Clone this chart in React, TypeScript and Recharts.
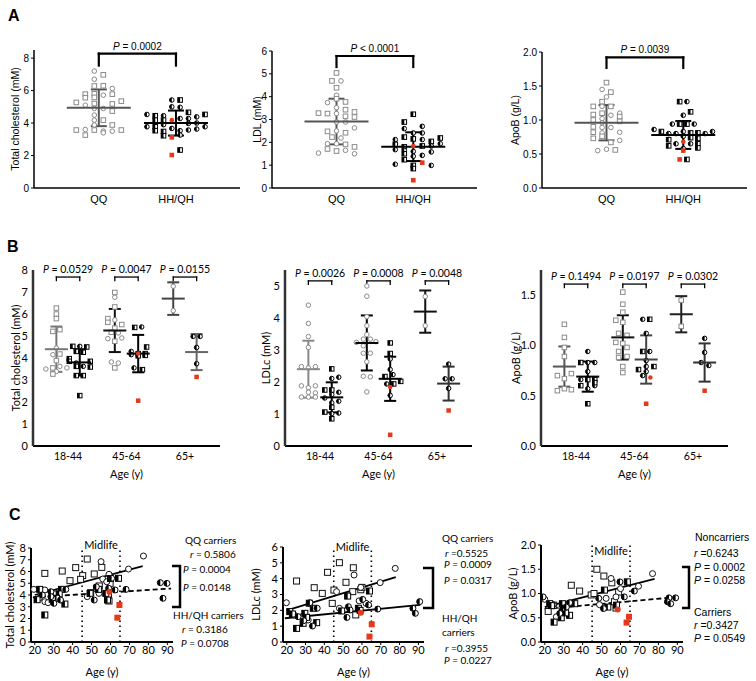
import React from 'react';
import { ScatterChart, Scatter, XAxis, YAxis, ErrorBar, ReferenceLine } from 'recharts';

type Kind = 'gs' | 'gc' | 'hs' | 'hc' | 'rs' | 'rc' | 'os' | 'oc';
type Pt = [number, number, Kind];

// ================= Panel A (slot in jitter column, value, marker kind) =================
const A_CATS = ['QQ', 'HH/QH'];

const A1_QQ: Pt[] = [
  [-0.5, 7.2, 'gc'], [0.5, 6.97, 'gs'], [-0.5, 6.7, 'gc'], [-0.5, 6.28, 'gs'], [0.5, 6.3, 'gs'], [1.5, 6.13, 'gc'],
  [-1.5, 5.78, 'gs'], [-0.5, 5.8, 'gs'], [1.5, 5.78, 'gs'], [-1.5, 5.56, 'gs'], [-0.5, 5.58, 'gs'], [0.5, 5.72, 'gc'],
  [-2.5, 5.27, 'gs'], [-1.5, 5.1, 'gc'], [-0.5, 5.2, 'gs'], [1.5, 5.18, 'gs'], [2.5, 5.35, 'gs'],
  [-0.5, 4.9, 'gc'], [0.5, 4.9, 'gc'], [1.5, 4.74, 'gs'], [-0.5, 4.49, 'gc'], [-0.5, 4.18, 'gc'], [0.5, 4.18, 'gs'],
  [-0.5, 3.88, 'gc'], [1.5, 3.88, 'gs'], [-2.5, 3.57, 'gs'], [-1.5, 3.6, 'gc'], [-0.5, 3.57, 'gs'], [0.5, 3.5, 'gc'],
  [1.5, 3.5, 'gc'], [2.5, 3.57, 'gs'], [-1.5, 3.26, 'gs'], [0.5, 3.4, 'gc'],
];
const A1_HH: Pt[] = [
  [-0.5, 5.42, 'hc'], [0.5, 5.42, 'hs'], [-0.5, 5.0, 'hc'], [0.5, 4.97, 'hc'], [1.5, 4.66, 'hs'], [3.5, 4.53, 'hs'],
  [-3.5, 4.53, 'hc'], [-2.5, 4.45, 'hs'], [-1.5, 4.45, 'hc'], [0.5, 4.28, 'hc'], [1.5, 4.28, 'hc'], [2.5, 4.38, 'hc'],
  [-2.5, 4.18, 'hs'], [-1.5, 4.18, 'hs'], [1.5, 3.98, 'hc'], [2.5, 4.0, 'hc'], [-3.5, 3.77, 'hc'], [-2.5, 3.77, 'hs'],
  [-1.5, 3.9, 'hc'], [-0.5, 3.67, 'hc'], [2.5, 3.63, 'hc'], [3.5, 3.77, 'hc'], [1.5, 3.57, 'hc'], [0.5, 3.53, 'hc'],
  [-2.5, 3.53, 'hs'], [-1.5, 3.48, 'hs'], [-1.5, 3.22, 'hs'], [0.5, 3.26, 'hc'], [0.5, 2.34, 'hs'],
  [-0.5, 4.18, 'rc'], [-0.5, 3.12, 'rs'], [-0.5, 2.03, 'rs'],
];
const A1_STATS: [number, number][] = [[4.94, 1.13], [4.0, 0.77]];
const A1_P = ['= 0.0002'];

const A2_QQ: Pt[] = [
  [0, 5.04, 'gs'], [-0.5, 4.69, 'gs'], [0.5, 4.69, 'gc'], [0, 4.39, 'gs'], [0, 4.06, 'gc'], [0, 3.91, 'gs'],
  [-1, 3.74, 'gc'], [1, 3.77, 'gs'], [0, 3.52, 'gc'], [1, 3.43, 'gs'], [-2, 3.28, 'gs'], [-1, 3.26, 'gs'],
  [0, 3.26, 'gc'], [2, 3.33, 'gs'], [2, 3.11, 'gs'], [1, 3.14, 'gs'], [0, 2.89, 'gc'], [1, 2.89, 'gc'],
  [2, 2.63, 'gc'], [-1, 2.48, 'gs'], [0, 2.5, 'gc'], [1, 2.42, 'gs'], [-0.5, 2.23, 'gs'], [0.5, 2.19, 'gc'],
  [-1, 1.94, 'gc'], [0, 1.94, 'gc'], [1, 1.91, 'gs'], [-1, 1.71, 'gs'], [2, 1.8, 'gs'], [1, 1.65, 'gc'],
  [0, 1.62, 'gs'], [-2, 1.53, 'gc'], [2, 1.5, 'gc'],
];
const A2_HH: Pt[] = [
  [0, 3.23, 'hs'], [-1, 2.89, 'hs'], [-1, 2.6, 'hc'], [1, 2.7, 'hc'], [0, 2.41, 'hc'], [1, 2.41, 'hc'],
  [-1, 2.23, 'hs'], [1, 2.12, 'hc'], [2, 2.04, 'hs'], [3, 2.19, 'hs'], [-2, 2.12, 'hc'], [0, 2.15, 'hs'],
  [-2, 1.91, 'hs'], [1, 1.84, 'hs'], [2, 1.84, 'hc'], [3, 1.94, 'hc'], [-1, 1.8, 'hs'], [-2, 1.68, 'hc'],
  [-1, 1.65, 'hc'], [0, 1.6, 'hc'], [2, 1.58, 'hc'], [-1, 1.5, 'hs'], [0, 1.39, 'hc'], [1, 1.43, 'hc'],
  [-1, 1.24, 'hs'], [-2, 1.04, 'hc'], [0, 0.99, 'hs'], [0, 0.85, 'hs'], [2, 0.99, 'hc'],
  [0, 1.84, 'rc'], [1, 1.11, 'rs'], [0, 0.34, 'rs'],
];
const A2_STATS: [number, number][] = [[2.91, 1.0], [1.81, 0.63]];
const A2_P = ['< 0.0001'];

const A3_QQ: Pt[] = [
  [0, 1.55, 'gs'], [-0.5, 1.45, 'gc'], [0.5, 1.41, 'gs'], [0, 1.34, 'gc'], [-0.5, 1.27, 'gs'],
  [-1.5, 1.2, 'gs'], [-0.5, 1.2, 'gc'], [0.5, 1.2, 'gs'], [-0.5, 1.1, 'gs'], [1.5, 1.1, 'gc'],
  [-1.5, 1.08, 'gs'], [0.5, 1.07, 'gc'], [-0.5, 1.02, 'gc'], [1.5, 1.05, 'gs'], [-1.5, 1.0, 'gs'],
  [-0.5, 0.96, 'gc'], [1.5, 0.98, 'gs'], [-1.5, 0.9, 'gs'], [-0.5, 0.89, 'gc'], [0.5, 0.89, 'gc'],
  [-1.5, 0.82, 'gs'], [-0.5, 0.81, 'gc'], [1.5, 0.82, 'gc'], [-1.5, 0.73, 'gs'], [-0.5, 0.76, 'gs'],
  [0.5, 0.67, 'gs'], [1.5, 0.7, 'gc'], [-1, 0.55, 'gc'], [0, 0.57, 'gc'], [1, 0.56, 'gs'],
];
const A3_HH: Pt[] = [
  [-0.5, 1.27, 'hs'], [0.5, 1.27, 'hc'], [1, 1.12, 'hs'], [0, 1.07, 'hc'],
  [-1.5, 0.94, 'hc'], [-0.5, 0.94, 'hs'], [0.5, 0.94, 'hs'], [1.5, 0.94, 'hc'],
  [-4, 0.86, 'hc'], [-3, 0.83, 'hs'], [-2, 0.8, 'hc'], [-1, 0.8, 'hc'], [0, 0.83, 'hc'], [1, 0.81, 'hs'],
  [2, 0.81, 'hs'], [3, 0.8, 'hc'], [4, 0.83, 'hc'], [-2, 0.71, 'hs'], [0, 0.76, 'hc'], [1, 0.74, 'hs'],
  [2, 0.73, 'hs'], [-2, 0.62, 'hs'], [-1, 0.65, 'hc'], [1, 0.65, 'hc'], [2, 0.65, 'hs'],
  [0, 0.58, 'hc'], [2, 0.59, 'hs'], [0.5, 0.42, 'hs'],
  [0, 0.68, 'rc'], [0, 0.55, 'rs'], [-0.5, 0.42, 'rs'],
];
const A3_STATS: [number, number][] = [[0.96, 0.26], [0.78, 0.205]];
const A3_P = ['= 0.0039'];

// ================= Panel B (age groups x genotype) =================
const B_CATS = ['18-44', '45-64', '65+'];

const B1_18QQ: Pt[] = [[0, 6.27, 'gs'], [0, 6.0, 'gs'], [0, 5.79, 'gs'], [-0.5, 5.21, 'gs'], [0.5, 5.29, 'gs'], [0, 4.45, 'gc'], [-0.5, 4.15, 'gc'], [0.5, 4.18, 'gs'], [0, 3.88, 'gs'], [-1.5, 3.5, 'gc'], [-0.5, 3.55, 'gs'], [0.5, 3.62, 'gc'], [1.5, 3.55, 'gc'], [0, 3.39, 'gc'], [-0.5, 3.27, 'gs']];
const B1_18HH: Pt[] = [[-1, 4.53, 'hs'], [0, 4.53, 'hc'], [1, 4.5, 'hs'], [-0.5, 4.3, 'hs'], [0.5, 4.26, 'hs'], [-1.5, 3.97, 'hs'], [-1.5, 3.85, 'hs'], [1.5, 3.85, 'hs'], [-0.5, 3.77, 'hc'], [-0.5, 3.62, 'hs'], [0.5, 3.62, 'hc'], [1.5, 3.59, 'hs'], [-0.5, 3.2, 'hs'], [0.5, 3.2, 'hs'], [0, 2.29, 'hs']];
const B1_45QQ: Pt[] = [[0, 6.98, 'gs'], [0, 6.76, 'gc'], [0, 6.32, 'gs'], [-1, 5.79, 'gs'], [-1, 5.62, 'gs'], [0, 5.73, 'gc'], [0, 5.36, 'gs'], [1, 5.52, 'gs'], [-0.5, 5.17, 'gs'], [0.5, 5.14, 'gc'], [-1, 4.88, 'gc'], [1, 4.91, 'gc'], [0, 4.76, 'gs'], [-0.5, 3.82, 'gc'], [0.5, 3.77, 'gc'], [0, 3.55, 'gs']];
const B1_45HH: Pt[] = [[-0.5, 5.39, 'hs'], [0.5, 5.41, 'hc'], [-1, 4.3, 'hc'], [-1, 4.15, 'hc'], [0, 4.2, 'hs'], [0, 4.1, 'hs'], [1, 4.2, 'hs'], [1, 4.12, 'hs'], [1.2, 4.5, 'hs'], [-0.6, 3.55, 'hc'], [0.6, 3.47, 'hs'], [0, 4.2, 'rc'], [0, 2.06, 'rs']];
const B1_65QQ: Pt[] = [[0, 7.26, 'gc'], [0, 6.15, 'gc']];
const B1_65HH: Pt[] = [[-0.5, 4.98, 'hc'], [0.5, 4.98, 'hc'], [0, 4.48, 'hc'], [0, 3.74, 'hc'], [0, 3.14, 'rs']];
const B1_STATS: [number, number][] = [[4.4, 1.03], [3.8, 0.6], [5.25, 0.98], [4.2, 0.85], [6.7, 0.74], [4.27, 0.82]];
const B1_P = ['= 0.0529', '= 0.0047', '= 0.0155'];

const B2_18QQ: Pt[] = [[0, 4.4, 'gc'], [0, 3.83, 'gc'], [0, 3.42, 'gc'], [0, 3.08, 'gc'], [-1, 2.48, 'gc'], [0, 2.44, 'gc'], [1, 2.48, 'gc'], [-1, 1.88, 'gc'], [1, 1.88, 'gc'], [0, 1.82, 'gc'], [0, 1.68, 'gc'], [0, 1.53, 'gc'], [1, 1.66, 'gc'], [-1, 1.53, 'gc'], [1, 1.53, 'gc']];
const B2_18HH: Pt[] = [[0, 2.41, 'hs'], [0, 2.11, 'hc'], [1, 2.15, 'hc'], [-1, 1.75, 'hs'], [0, 1.75, 'hs'], [0, 1.61, 'hc'], [1, 1.68, 'hc'], [-1, 1.5, 'hc'], [0, 1.35, 'hc'], [1, 1.4, 'hc'], [0, 1.21, 'hs'], [-1, 1.06, 'hs'], [0, 1.01, 'hc'], [1, 1.03, 'hc'], [0, 0.85, 'hs']];
const B2_45QQ: Pt[] = [[0, 5.0, 'gc'], [0, 4.68, 'gc'], [0, 4.04, 'gc'], [0, 3.76, 'gc'], [0, 3.48, 'gc'], [-0.5, 3.34, 'gc'], [0.5, 3.34, 'gc'], [-1.5, 3.24, 'gc'], [1.3, 3.26, 'gc'], [-0.5, 3.13, 'gc'], [-0.5, 2.9, 'gc'], [0.5, 2.9, 'gc'], [0, 2.63, 'gc'], [-0.5, 2.18, 'gc'], [0.5, 2.16, 'gc'], [0, 1.69, 'gc']];
const B2_45HH: Pt[] = [[0, 3.22, 'hs'], [0, 2.89, 'hs'], [0, 2.72, 'hc'], [0, 2.39, 'hc'], [-0.75, 2.17, 'hs'], [0.4, 2.23, 'hc'], [1.5, 2.02, 'hs'], [-0.5, 1.94, 'hc'], [0.5, 1.94, 'hs'], [0, 1.58, 'hc'], [0, 1.84, 'rc'], [0, 0.35, 'rs']];
const B2_65QQ: Pt[] = [[0, 4.67, 'gc'], [0, 3.76, 'gc']];
const B2_65HH: Pt[] = [[0, 2.56, 'hc'], [-0.5, 2.1, 'hc'], [0.5, 2.1, 'hc'], [0, 1.8, 'hc'], [0, 1.11, 'rs']];
const B2_STATS: [number, number][] = [[2.4, 0.89], [1.52, 0.47], [3.22, 0.86], [2.1, 0.69], [4.2, 0.66], [1.95, 0.53]];
const B2_P = ['= 0.0026', '= 0.0008', '= 0.0048'];

const B3_18QQ: Pt[] = [[0, 1.21, 'gs'], [0, 1.08, 'gs'], [0, 0.98, 'gs'], [0, 0.89, 'gs'], [-1, 0.7, 'gs'], [1, 0.72, 'gs'], [0, 0.67, 'gs'], [-1, 0.55, 'gs'], [0, 0.57, 'gs'], [1, 0.56, 'gs']];
const B3_18HH: Pt[] = [[0, 0.94, 'hc'], [-1, 0.83, 'hs'], [0, 0.83, 'hc'], [1, 0.83, 'hc'], [0, 0.74, 'hc'], [-1, 0.66, 'hc'], [0, 0.66, 'hs'], [1, 0.66, 'hs'], [-1, 0.6, 'hs'], [1, 0.6, 'hc'], [0, 0.57, 'hc'], [1, 0.63, 'hs'], [0, 0.42, 'hs']];
const B3_45QQ: Pt[] = [[0, 1.53, 'gs'], [0, 1.41, 'gs'], [0, 1.33, 'gs'], [-1, 1.25, 'gs'], [0, 1.23, 'gs'], [-0.6, 1.12, 'gs'], [0.6, 1.1, 'gs'], [-1, 1.03, 'gs'], [0, 1.02, 'gs'], [0.6, 0.98, 'gs'], [-0.6, 0.94, 'gs'], [-0.6, 0.88, 'gs'], [0.6, 0.89, 'gs'], [0, 0.79, 'gs'], [0, 0.73, 'gs']];
const B3_45HH: Pt[] = [[-0.5, 1.26, 'hc'], [0.5, 1.26, 'hs'], [0, 1.12, 'hc'], [-0.5, 0.94, 'hs'], [0.5, 0.94, 'hc'], [0, 0.85, 'hc'], [-1.1, 0.76, 'hs'], [0, 0.79, 'hc'], [1.1, 0.79, 'hs'], [0, 0.74, 'hc'], [-0.5, 0.7, 'hc'], [0.6, 0.68, 'rc'], [0, 0.42, 'rs']];
const B3_65QQ: Pt[] = [[0, 1.45, 'gs'], [0, 1.19, 'gs']];
const B3_65HH: Pt[] = [[0, 1.07, 'hc'], [0, 0.93, 'hc'], [-0.5, 0.83, 'hc'], [0.6, 0.8, 'hc'], [0, 0.55, 'rs']];
const B3_STATS: [number, number][] = [[0.79, 0.2], [0.69, 0.15], [1.08, 0.22], [0.86, 0.24], [1.31, 0.18], [0.83, 0.19]];
const B3_P = ['= 0.1494', '= 0.0197', '= 0.0302'];

// ================= Panel C (age, value, marker kind) =================
const C_XTICKS = [20, 30, 40, 50, 60, 70, 80, 90];
const MIDLIFE = [45, 65];

const C1_PTS: Pt[] = [
  [25.3, 5.84, 'os'], [34.5, 6.04, 'os'], [41.6, 6.33, 'os'], [47.7, 7.06, 'os'], [38.6, 5.22, 'os'], [45.3, 5.65, 'os'],
  [51.4, 5.79, 'os'], [44.2, 5.33, 'os'], [52.7, 4.57, 'os'], [54.1, 4.77, 'os'], [59.8, 4.99, 'os'], [58.9, 3.86, 'os'],
  [59.2, 3.49, 'os'], [49.5, 4.2, 'os'], [55.4, 6.35, 'os'],
  [77.4, 7.32, 'oc'], [55.0, 6.84, 'oc'], [69.5, 6.21, 'oc'], [59.2, 5.76, 'oc'], [55.9, 5.36, 'oc'], [19.5, 4.48, 'oc'],
  [25.3, 4.43, 'oc'], [25.3, 3.43, 'oc'], [22.3, 3.72, 'oc'], [47.7, 3.86, 'oc'], [53.9, 4.14, 'oc'], [58.0, 5.13, 'oc'],
  [27.0, 3.35, 'oc'], [30.0, 3.6, 'oc'],
  [22.6, 4.48, 'hs'], [21.2, 3.6, 'hs'], [30.1, 4.09, 'hs'], [34.1, 4.48, 'hs'], [32.9, 4.09, 'hs'], [31.5, 3.72, 'hs'],
  [29.2, 3.63, 'hs'], [35.9, 3.23, 'hs'], [25.3, 2.3, 'hs'], [49.2, 4.14, 'hs'], [53.6, 4.48, 'hs'], [64.2, 5.42, 'hs'],
  [57.5, 4.14, 'hs'], [58.4, 3.57, 'hs'], [60.0, 5.4, 'hs'],
  [28.5, 4.28, 'hc'], [36.4, 4.48, 'hc'], [28.5, 3.86, 'hc'], [30.1, 3.29, 'hc'], [33.6, 3.57, 'hc'], [51.4, 3.57, 'hc'],
  [59.0, 4.57, 'hc'], [60.6, 5.42, 'hc'], [62.4, 4.43, 'hc'], [68.2, 4.48, 'hc'], [86.3, 5.05, 'hc'], [89.8, 4.99, 'hc'],
  [87.7, 3.72, 'hc'], [52.5, 4.7, 'hc'], [24.0, 4.0, 'hc'],
  [59.4, 4.28, 'rc'], [64.7, 3.15, 'rs'], [63.6, 2.07, 'rs'],
];
const C1_FITS: [number, number, number, number, boolean][] = [[20, 4.0, 77, 6.45, false], [19, 3.8, 92, 4.55, true]];

const C2_PTS: Pt[] = [
  [48.0, 5.01, 'os'], [41.7, 4.4, 'os'], [55.4, 4.69, 'os'], [25.2, 3.85, 'os'], [34.6, 3.43, 'os'], [51.5, 3.77, 'os'],
  [38.9, 3.07, 'os'], [45.1, 3.28, 'os'], [55.1, 3.18, 'os'], [44.2, 2.44, 'os'], [59.4, 3.3, 'os'], [56.7, 1.71, 'os'],
  [60.0, 3.45, 'os'],
  [77.7, 4.65, 'oc'], [55.8, 4.23, 'oc'], [46.5, 3.18, 'oc'], [59.4, 3.45, 'oc'], [69.7, 3.75, 'oc'], [62.2, 2.44, 'oc'],
  [19.8, 2.48, 'oc'], [48.0, 2.13, 'oc'], [31.4, 1.39, 'oc'], [28.0, 1.6, 'oc'], [24.0, 1.7, 'oc'], [58.5, 2.6, 'oc'],
  [52.4, 2.9, 'hs'], [64.0, 3.22, 'hs'], [34.1, 2.13, 'hs'], [49.2, 1.96, 'hs'], [58.1, 2.13, 'hs'], [21.6, 1.92, 'hs'],
  [23.0, 1.77, 'hs'], [29.6, 1.81, 'hs'], [30.5, 1.56, 'hs'], [28.7, 1.18, 'hs'], [35.9, 1.22, 'hs'], [25.2, 0.86, 'hs'],
  [32.0, 2.45, 'hs'], [59.0, 2.0, 'hs'],
  [32.3, 2.48, 'hc'], [36.2, 2.13, 'hc'], [60.4, 2.69, 'hc'], [52.8, 2.23, 'hc'], [53.7, 2.02, 'hc'], [63.5, 2.34, 'hc'],
  [68.4, 2.08, 'hc'], [87.1, 2.13, 'hc'], [88.4, 1.81, 'hc'], [90.7, 2.55, 'hc'], [26.0, 1.6, 'hc'], [33.7, 1.01, 'hc'],
  [52.0, 1.55, 'hc'], [29.0, 1.35, 'hc'],
  [59.4, 1.85, 'rc'], [65.2, 1.12, 'rs'], [64.0, 0.34, 'rs'],
];
const C2_FITS: [number, number, number, number, boolean][] = [[20, 2.0, 78, 4.1, false], [19, 1.5, 91, 2.35, false]];

const C3_PTS: Pt[] = [
  [47.5, 1.5, 'os'], [51.2, 1.36, 'os'], [34.0, 1.17, 'os'], [38.4, 1.05, 'os'], [55.4, 1.22, 'os'], [44.5, 0.97, 'os'],
  [59.0, 1.03, 'os'], [56.8, 0.83, 'os'], [21.8, 0.63, 'os'], [24.7, 0.76, 'os'], [57.6, 0.7, 'os'], [46.0, 1.0, 'os'],
  [76.9, 1.41, 'oc'], [55.0, 1.31, 'oc'], [69.5, 1.15, 'oc'], [57.6, 0.93, 'oc'], [20.0, 0.88, 'oc'], [24.4, 0.77, 'oc'],
  [26.1, 0.52, 'oc'], [48.9, 0.77, 'oc'], [52.4, 0.9, 'oc'], [60.0, 1.1, 'oc'], [29.0, 0.7, 'oc'],
  [22.6, 0.79, 'hs'], [23.5, 0.75, 'hs'], [29.3, 0.79, 'hs'], [35.8, 0.79, 'hs'], [33.1, 0.55, 'hs'], [29.3, 0.62, 'hs'],
  [24.9, 0.41, 'hs'], [28.7, 0.5, 'hs'], [51.5, 1.07, 'hs'], [63.6, 1.24, 'hs'], [53.3, 0.72, 'hs'], [57.9, 0.76, 'hs'],
  [31.0, 0.6, 'hs'],
  [19.1, 0.93, 'hc'], [29.8, 0.7, 'hc'], [33.1, 0.81, 'hc'], [31.4, 0.72, 'hc'], [27.9, 0.59, 'hc'], [48.5, 0.9, 'hc'],
  [59.7, 1.24, 'hc'], [62.0, 0.93, 'hc'], [51.0, 0.69, 'hc'], [67.3, 1.05, 'hc'], [85.6, 0.91, 'hc'], [89.1, 0.91, 'hc'],
  [84.8, 0.83, 'hc'], [86.5, 0.79, 'hc'],
  [58.5, 0.67, 'rc'], [64.5, 0.52, 'rs'], [63.2, 0.4, 'rs'],
];
const C3_FITS: [number, number, number, number, boolean][] = [[20, 0.72, 78, 1.3, false], [20, 0.68, 91, 0.93, true]];

// annotation texts (x, y, text, italic first letter)
type Note = [number, number, string, boolean];
const C1_NOTES: Note[] = [
  [185, 540, 'QQ carriers', false], [190, 554, 'r = 0.5806', true], [183, 569, 'P = 0.0004', true],
  [183, 587, 'P = 0.0148', true], [173, 615, 'HH/QH carriers', false], [182, 629, 'r = 0.3186', true],
  [181, 643, 'P = 0.0708', true],
];
const C2_NOTES: Note[] = [
  [442, 538, 'QQ carriers', false], [445, 553, 'r =0.5525', true], [444, 564, 'P = 0.0009', true],
  [444, 580, 'P = 0.0317', true], [442, 618, 'HH/QH', false], [442, 632, 'carriers', false],
  [445, 648, 'r =0.3955', true], [444, 660, 'P = 0.0227', true],
];
const C3_NOTES: Note[] = [
  [695, 537, 'Noncarriers', false], [694, 553, 'r =0.6243', true], [694, 567, 'P = 0.0002', true],
  [694, 580, 'P = 0.0258', true], [694, 612, 'Carriers', false], [694, 625, 'r =0.3427', true],
  [694, 638, 'P = 0.0549', true],
];

// ================= rendering =================
const RED = '#e4391b';
const FA = "'Liberation Sans', Arial, sans-serif";
const FB = "Lato, 'Liberation Sans', sans-serif";

function mark(kind: Kind, cx: number, cy: number, s: number) {
  const h = s / 2;
  const sq = (fill: string, stroke: string) => (
    <rect x={cx - h} y={cy - h} width={s} height={s} fill={fill} stroke={stroke} strokeWidth={1} />
  );
  const ci = (fill: string, stroke: string) => <circle cx={cx} cy={cy} r={h} fill={fill} stroke={stroke} strokeWidth={1} />;
  switch (kind) {
    case 'gs': return sq('#fff', '#8a8a8a');
    case 'gc': return ci('#fff', '#8a8a8a');
    case 'os': return sq('#fff', '#111');
    case 'oc': return ci('#fff', '#111');
    case 'hs': return <g>{sq('#fff', '#000')}<rect x={cx - h} y={cy - h} width={h} height={s} fill="#000" /></g>;
    case 'hc': return <g>{ci('#fff', '#000')}<path d={`M${cx} ${cy - h} A${h} ${h} 0 0 0 ${cx} ${cy + h} Z`} fill="#000" /></g>;
    case 'rs': return <rect x={cx - h} y={cy - h} width={s} height={s} fill={RED} />;
    default: return <circle cx={cx} cy={cy} r={h} fill={RED} />;
  }
}

const yTitle = (text: string, dx: number, fs: number, font: string) => (p: any) => {
  const vb = p.viewBox || {};
  const ax = vb.x + vb.width - dx;
  const cy = vb.y + vb.height / 2;
  return (
    <text x={ax} y={cy} transform={`rotate(-90 ${ax} ${cy})`} textAnchor="middle" dominantBaseline="central" fontSize={fs} fill="#000" fontFamily={font}>
      {text}
    </text>
  );
};

const xTitle = (text: string, dy: number, fs: number, font: string) => (p: any) => {
  const vb = p.viewBox || {};
  return (
    <text x={vb.x + vb.width / 2} y={vb.y + dy} textAnchor="middle" dominantBaseline="central" fontSize={fs} fill="#000" fontFamily={font}>
      {text}
    </text>
  );
};

const pLabel = (txt: string, fs: number, gap: number, font: string) => (p: any) => {
  const vb = p.viewBox || {};
  return (
    <text x={vb.x + vb.width / 2} y={vb.y - gap} textAnchor="middle" fontSize={fs} fill="#000" fontFamily={font}>
      <tspan fontStyle="italic">P</tspan>
      {' ' + txt}
    </text>
  );
};

interface GroupCfg {
  rect: [number, number, number, number];
  xDomain: [number, number];
  yDomain: [number, number];
  xTicks: number[];
  xLabels: string[];
  yTicks: number[];
  yDigits: number;
  groupX: number[];
  groups: Pt[][];
  stats: [number, number][];
  slotPx: number[];
  barColors: string[];
  mk: number;
  meanHalf: number;
  capHalf: number;
  barW: number;
  pairs: [number, number][];
  pTexts: string[];
  bracketY: number;
  legPx: number;
  bracketW: number;
  pFs: number;
  pGap: number;
  title: string;
  titleDx: number;
  titleFs: number;
  tickFs: number;
  catFs: number;
  font: string;
  yAxisW: number;
  xAxisW: number;
  yAxisColor: string;
  yTickLine: boolean;
  xTitle?: string;
}

function GroupPanel({ c }: { c: GroupCfg }) {
  const [x0, x1, y0, y1] = c.rect;
  const YW = 52, MT = 30, MR = 10, XH = 42;
  const W = x1 - x0 + YW + MR;
  const H = y1 - y0 + MT + XH;
  const pxX = (x1 - x0) / (c.xDomain[1] - c.xDomain[0]);
  const pxY = (y1 - y0) / (c.yDomain[1] - c.yDomain[0]);
  const pts: any[] = [];
  const reds: any[] = [];
  c.groups.forEach((g, gi) =>
    g.forEach(([s, v, k]) => {
      const d = { x: c.groupX[gi] + (s * c.slotPx[gi]) / pxX, y: v, k };
      (k === 'rs' || k === 'rc' ? reds : pts).push(d);
    })
  );
  const shape = (p: any) => mark(p.payload.k, p.cx, p.cy, c.mk);
  const meanShape = (col: string) => (p: any) => (
    <line x1={p.cx - c.meanHalf} x2={p.cx + c.meanHalf} y1={p.cy} y2={p.cy} stroke={col} strokeWidth={c.barW} />
  );
  const leg = c.legPx / pxY;
  const refs: React.ReactNode[] = [];
  c.pairs.forEach(([a, b], i) => {
    const y = c.bracketY;
    const common = { stroke: '#000', strokeWidth: c.bracketW, ifOverflow: 'visible' as const, strokeLinecap: 'square' as const };
    refs.push(<ReferenceLine key={`h${i}`} segment={[{ x: a, y }, { x: b, y }]} {...common} label={pLabel(c.pTexts[i], c.pFs, c.pGap, c.font)} />);
    refs.push(<ReferenceLine key={`l${i}`} segment={[{ x: a, y }, { x: a, y: y - leg }]} {...common} />);
    refs.push(<ReferenceLine key={`r${i}`} segment={[{ x: b, y }, { x: b, y: y - leg }]} {...common} />);
  });
  return (
    <div style={{ position: 'absolute', left: x0 - YW, top: y0 - MT }}>
      <ScatterChart width={W} height={H} margin={{ top: MT, right: MR, bottom: 0, left: 0 }}>
        <XAxis
          type="number" dataKey="x" domain={c.xDomain} allowDataOverflow ticks={c.xTicks} interval={0}
          tickFormatter={(v: number) => c.xLabels[c.xTicks.indexOf(v)] ?? ''}
          tickLine={false} tickSize={5} tickMargin={2} height={XH}
          axisLine={{ stroke: '#000', strokeWidth: c.xAxisW }}
          tick={{ fill: '#000', fontSize: c.catFs, fontFamily: c.font }}
          label={c.xTitle ? xTitle(c.xTitle, 27, 11, c.font) : undefined}
        />
        <YAxis
          type="number" dataKey="y" domain={c.yDomain} allowDataOverflow ticks={c.yTicks} interval={0} width={YW}
          tickFormatter={(v: number) => v.toFixed(c.yDigits)}
          tick={{ fill: '#000', fontSize: c.tickFs, fontFamily: c.font }}
          tickLine={c.yTickLine ? { stroke: '#000' } : false} tickSize={3} tickMargin={2}
          axisLine={{ stroke: c.yAxisColor, strokeWidth: c.yAxisW }}
          label={yTitle(c.title, c.titleDx, c.titleFs, c.font)}
        />
        <Scatter data={pts} shape={shape} isAnimationActive={false} />
        {c.stats.map(([m, sd], gi) => (
          <Scatter key={`m${gi}`} data={[{ x: c.groupX[gi], y: m, err: sd }]} shape={meanShape(c.barColors[gi])} isAnimationActive={false}>
            <ErrorBar dataKey="err" direction="y" width={c.capHalf} stroke={c.barColors[gi]} strokeWidth={c.barW} isAnimationActive={false} />
          </Scatter>
        ))}
        <Scatter data={reds} shape={shape} isAnimationActive={false} />
        {refs}
      </ScatterChart>
    </div>
  );
}

interface CorrCfg {
  rect: [number, number, number, number];
  yDomain: [number, number];
  yTicks: number[];
  yDigits: number;
  pts: Pt[];
  fits: [number, number, number, number, boolean][];
  title: string;
  titleDx: number;
  midDy: number;
}

function CorrPanel({ c }: { c: CorrCfg }) {
  const [x0, x1, y0, y1] = c.rect;
  const YW = 52, MT = 14, MR = 6, XH = 40;
  const W = x1 - x0 + YW + MR;
  const H = y1 - y0 + MT + XH;
  const pts = c.pts.filter((p) => p[2] !== 'rs' && p[2] !== 'rc').map(([x, y, k]) => ({ x, y, k }));
  const reds = c.pts.filter((p) => p[2] === 'rs' || p[2] === 'rc').map(([x, y, k]) => ({ x, y, k }));
  const shape = (p: any) => mark(p.payload.k, p.cx, p.cy, 6);
  const top = c.yDomain[1];
  const midLabel = (p: any) => {
    const vb = p.viewBox || {};
    return (
      <text x={vb.x + vb.width / 2} y={vb.y + c.midDy} textAnchor="middle" dominantBaseline="central" fontSize={11} fill="#000" fontFamily={FB}>
        Midlife
      </text>
    );
  };
  return (
    <div style={{ position: 'absolute', left: x0 - YW, top: y0 - MT }}>
      <ScatterChart width={W} height={H} margin={{ top: MT, right: MR, bottom: 0, left: 0 }}>
        <XAxis
          type="number" dataKey="x" domain={[18, 93]} allowDataOverflow ticks={C_XTICKS} interval={0}
          tickLine={{ stroke: '#000' }} tickSize={3} tickMargin={1} height={XH}
          axisLine={{ stroke: '#000', strokeWidth: 2 }}
          tick={{ fill: '#000', fontSize: 11, fontFamily: FB }}
          label={xTitle('Age (y)', 29, 11, FB)}
        />
        <YAxis
          type="number" dataKey="y" domain={c.yDomain} allowDataOverflow ticks={c.yTicks} interval={0} width={YW}
          tickFormatter={(v: number) => v.toFixed(c.yDigits)}
          tick={{ fill: '#000', fontSize: 11, fontFamily: FB }}
          tickLine={{ stroke: '#000' }} tickSize={3} tickMargin={2}
          axisLine={{ stroke: '#000', strokeWidth: 2 }}
          label={yTitle(c.title, c.titleDx, 11, FB)}
        />
        {MIDLIFE.map((m) => (
          <ReferenceLine key={`ml${m}`} x={m} stroke="#000" strokeWidth={1.6} strokeDasharray="1.5 3.5" />
        ))}
        <ReferenceLine segment={[{ x: MIDLIFE[0], y: top }, { x: MIDLIFE[1], y: top }]} stroke="none" ifOverflow="visible" label={midLabel} />
        <Scatter data={pts} shape={shape} isAnimationActive={false} />
        {c.fits.map(([ax, ay, bx, by, dash], i) => (
          <ReferenceLine key={`f${i}`} segment={[{ x: ax, y: ay }, { x: bx, y: by }]} stroke="#000" strokeWidth={1.8} strokeDasharray={dash ? '5 3' : undefined} ifOverflow="visible" />
        ))}
        <Scatter data={reds} shape={shape} isAnimationActive={false} />
      </ScatterChart>
    </div>
  );
}

const A_BASE = {
  xDomain: [0.16, 2.83] as [number, number],
  xTicks: [1, 2],
  xLabels: A_CATS,
  groupX: [1, 2],
  barColors: ['#555', '#000'],
  mk: 4.6,
  meanHalf: 32,
  capHalf: 8,
  barW: 2,
  pairs: [[1, 2]] as [number, number][],
  bracketW: 2.2,
  pFs: 10,
  pGap: 4,
  tickFs: 10,
  catFs: 11,
  font: FA,
  yAxisW: 1.5,
  xAxisW: 1.5,
  yAxisColor: '#000',
  yTickLine: true,
};

const B_BASE = {
  xDomain: [0.4, 3.6] as [number, number],
  xTicks: [1, 2, 3],
  xLabels: B_CATS,
  groupX: [0.8, 1.2, 1.8, 2.2, 2.8, 3.2],
  slotPx: [7, 7, 7, 7, 7, 7],
  mk: 4.5,
  meanHalf: 11.5,
  capHalf: 6,
  barW: 2,
  pairs: [[0.8, 1.2], [1.8, 2.2], [2.8, 3.2]] as [number, number][],
  legPx: 3.5,
  bracketW: 1.3,
  pFs: 10.5,
  pGap: 4,
  tickFs: 11,
  catFs: 10.5,
  font: FB,
  yAxisW: 2.5,
  xAxisW: 2,
  yAxisColor: '#333',
  yTickLine: false,
  xTitle: 'Age (y)',
};

const PANELS_A: GroupCfg[] = [
  { ...A_BASE, rect: [34, 240, 50, 188], yDomain: [0, 8.5], yTicks: [0, 2, 4, 6, 8], yDigits: 0, groups: [A1_QQ, A1_HH], stats: A1_STATS, slotPx: [9, 8.3], pTexts: A1_P, bracketY: 8.28, legPx: 12, title: 'Total cholesterol (mM)', titleDx: 19, titleFs: 10.5 },
  { ...A_BASE, rect: [272, 477, 51, 188], yDomain: [0, 6], yTicks: [0, 1, 2, 3, 4, 5, 6], yDigits: 0, groups: [A2_QQ, A2_HH], stats: A2_STATS, slotPx: [9, 9], pTexts: A2_P, bracketY: 5.78, legPx: 11, title: 'LDL (mM)', titleDx: 15, titleFs: 10.5 },
  { ...A_BASE, rect: [542, 747, 52, 188], yDomain: [0, 2], yTicks: [0, 0.5, 1, 1.5, 2], yDigits: 1, groups: [A3_QQ, A3_HH], stats: A3_STATS, slotPx: [8.8, 7.3], pTexts: A3_P, bracketY: 1.92, legPx: 10.5, title: 'ApoB (g/L)', titleDx: 27, titleFs: 10.5 },
];

const PANELS_B: GroupCfg[] = [
  { ...B_BASE, rect: [33, 220, 270, 446], yDomain: [0, 8], yTicks: [0, 1, 2, 3, 4, 5, 6, 7, 8], yDigits: 0, groups: [B1_18QQ, B1_18HH, B1_45QQ, B1_45HH, B1_65QQ, B1_65HH], stats: B1_STATS, barColors: ['#777', '#000', '#111', '#000', '#444', '#666'], pTexts: B1_P, bracketY: 7.68, title: 'Total cholesterol (mM)', titleDx: 18, titleFs: 11 },
  { ...B_BASE, rect: [285, 472, 270, 446], yDomain: [0, 5.5], yTicks: [0, 1, 2, 3, 4, 5], yDigits: 0, groups: [B2_18QQ, B2_18HH, B2_45QQ, B2_45HH, B2_65QQ, B2_65HH], stats: B2_STATS, barColors: ['#888', '#000', '#000', '#000', '#111', '#333'], pTexts: B2_P, bracketY: 5.16, title: 'LDLc (mM)', titleDx: 20, titleFs: 11 },
  { ...B_BASE, rect: [541, 728, 270, 446], yDomain: [0, 1.75], yTicks: [0, 0.5, 1, 1.5], yDigits: 1, groups: [B3_18QQ, B3_18HH, B3_45QQ, B3_45HH, B3_65QQ, B3_65HH], stats: B3_STATS, barColors: ['#555', '#000', '#111', '#444', '#222', '#333'], pTexts: B3_P, bracketY: 1.61, title: 'ApoB (g/L)', titleDx: 26, titleFs: 11 },
];

const PANELS_C: CorrCfg[] = [
  { rect: [31, 173, 548, 642], yDomain: [0, 8], yTicks: [0, 1, 2, 3, 4, 5, 6, 7, 8], yDigits: 0, pts: C1_PTS, fits: C1_FITS, title: 'Total cholesterol (mM)', titleDx: 22, midDy: -4 },
  { rect: [283, 424, 547, 642], yDomain: [0, 6], yTicks: [0, 1, 2, 3, 4, 5, 6], yDigits: 0, pts: C2_PTS, fits: C2_FITS, title: 'LDLc (mM)', titleDx: 28, midDy: -1 },
  { rect: [541, 683, 545, 642], yDomain: [0, 2], yTicks: [0, 0.5, 1, 1.5, 2], yDigits: 1, pts: C3_PTS, fits: C3_FITS, title: 'ApoB (g/L)', titleDx: 29, midDy: 5 },
];

// side brackets of panel C: [x, yTop, yBottom, tickLeftX]
const C_BRACKETS: [number, number, number, number][] = [[180, 566, 607, 172], [433, 568, 608, 423], [689, 567, 608, 682]];

function Notes({ notes, fs, font }: { notes: Note[]; fs: number; font: string }) {
  return (
    <g>
      {notes.map(([x, y, t, it], i) => (
        <text key={i} x={x} y={y} fontSize={fs} fontFamily={font} dominantBaseline="central" fill="#000">
          {it ? <tspan fontStyle="italic">{t[0]}</tspan> : null}
          {it ? t.slice(1) : t}
        </text>
      ))}
    </g>
  );
}

export default function App() {
  return (
    <div style={{ position: 'absolute', left: 0, top: 0, width: 756, height: 681, background: '#fff', fontFamily: FA, overflow: 'hidden' }}>
      {PANELS_A.map((c, i) => <GroupPanel key={`a${i}`} c={c} />)}
      {PANELS_B.map((c, i) => <GroupPanel key={`b${i}`} c={c} />)}
      {PANELS_C.map((c, i) => <CorrPanel key={`c${i}`} c={c} />)}
      <svg width={756} height={681} style={{ position: 'absolute', left: 0, top: 0, pointerEvents: 'none' }}>
        <text x={8} y={20.5} fontSize={16} fontWeight="bold" fontFamily={FA}>A</text>
        <text x={7} y={252} fontSize={16} fontWeight="bold" fontFamily={FA}>B</text>
        <text x={9} y={520} fontSize={16} fontWeight="bold" fontFamily={FA}>C</text>
        <Notes notes={C1_NOTES} fs={10} font={FB} />
        <Notes notes={C2_NOTES} fs={10} font={FB} />
        <Notes notes={C3_NOTES} fs={10.5} font={FA} />
        {C_BRACKETS.map(([x, yt, yb, xl], i) => (
          <path key={i} d={`M${xl} ${yt} H${x} V${yb} H${xl}`} fill="none" stroke="#000" strokeWidth={2.5} />
        ))}
      </svg>
    </div>
  );
}
